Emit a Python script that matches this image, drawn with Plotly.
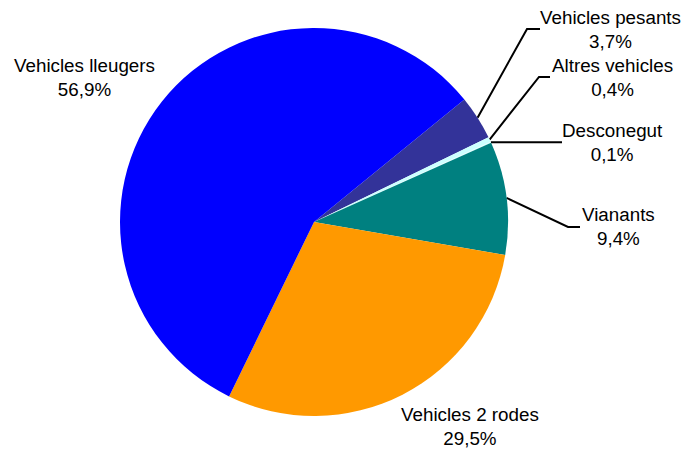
import math
import plotly.graph_objects as go

# slices in clockwise order, starting at the top-right
labels = ["Vehicles pesants", "Altres vehicles", "Desconegut", "Vianants",
          "Vehicles 2 rodes", "Vehicles lleugers"]
values = [3.7, 0.4, 0.1, 9.4, 29.5, 56.9]
colors = ["#333399", "#CCFFFF", "#E0FFFF", "#008080", "#FF9900", "#0000FF"]

W, H = 687, 454
cx, cy, r = 314, 222, 194
rotation = 50.8

# label text positions (pixels) and elbow of the leader line (None = no line)
label_pos = [(610, 29), (612, 77), (612, 142), (618, 226), (470, 426), (84, 77)]
elbows = [(527, 29), (539, 77), None, (568, 227), None, None]
line_end = [540, 550, 562, 580, None, None]

fig = go.Figure()

fig.add_trace(go.Pie(
    labels=labels, values=values, sort=False, direction="clockwise",
    rotation=rotation, textinfo="none", hoverinfo="label+percent",
    marker=dict(colors=colors, line=dict(width=0)),
    domain=dict(x=[(cx - r) / W, (cx + r) / W],
                y=[1 - (cy + r) / H, 1 - (cy - r) / H]),
    showlegend=False,
))

total = sum(values)
start = rotation
for i, v in enumerate(values):
    ang = start + v / total * 360 / 2
    start += v / total * 360
    px_ = cx + r * math.sin(math.radians(ang))
    py_ = cy - r * math.cos(math.radians(ang))
    if i == 2:
        xs, ys = [px_, line_end[i]], [py_, py_]
    elif elbows[i] is not None:
        ex, ey = elbows[i]
        xs, ys = [px_, ex, line_end[i]], [py_, ey, ey]
    else:
        xs = None
    if xs:
        fig.add_trace(go.Scatter(x=xs, y=ys, mode="lines",
                                 line=dict(color="black", width=2),
                                 hoverinfo="skip", showlegend=False))
    txt = labels[i] + "<br>" + f"{v:.1f}".replace(".", ",") + "%"
    fig.add_annotation(x=label_pos[i][0], y=label_pos[i][1], text=txt,
                       showarrow=False, xref="x", yref="y",
                       font=dict(size=18.8, color="black"), align="center")

fig.update_xaxes(range=[0, W], visible=False, fixedrange=True)
fig.update_yaxes(range=[H, 0], visible=False, fixedrange=True)
fig.update_layout(
    width=W, height=H, margin=dict(l=0, r=0, t=0, b=0),
    paper_bgcolor="white", plot_bgcolor="rgba(0,0,0,0)",
    font=dict(family="Liberation Sans, Arial, sans-serif"),
)

# drop the default page margin so the chart sits at the window's corner
fig.write_html("out.html", config={"displayModeBar": False},
               post_script="document.body.style.margin='0';")
